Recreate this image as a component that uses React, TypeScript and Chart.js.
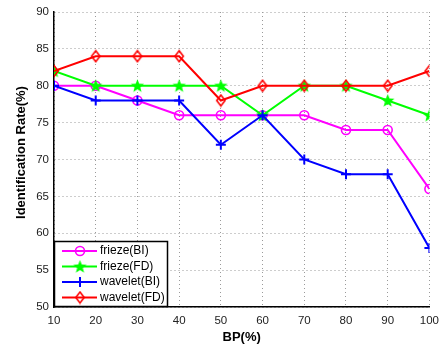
import React, { useEffect, useRef } from "react";
import { Chart, registerables } from "chart.js";

Chart.register(...registerables);

const bpValues = [10, 20, 30, 40, 50, 60, 70, 80, 90, 100];
const friezeBI = [80, 80, 78, 76, 76, 76, 76, 74, 74, 66];
const friezeFD = [82, 80, 80, 80, 80, 76, 80, 80, 78, 76];
const waveletBI = [80, 78, 78, 78, 72, 76, 70, 68, 68, 58];
const waveletFD = [82, 84, 84, 84, 78, 80, 80, 80, 80, 82];
const seriesNames = ["frieze(BI)", "frieze(FD)", "wavelet(BI)", "wavelet(FD)"];
const seriesColors = ["#ff00ff", "#00ff00", "#0000ff", "#ff0000"];
const xTitle = "BP(%)";
const yTitle = "Identification Rate(%)";

function makeStar(color: string): HTMLCanvasElement {
  const c = document.createElement("canvas");
  c.width = 15;
  c.height = 15;
  const ctx = c.getContext("2d")!;
  const cx = 7.5, cy = 8, ro = 7, ri = 3;
  ctx.beginPath();
  for (let i = 0; i < 10; i++) {
    const r = i % 2 === 0 ? ro : ri;
    const a = -Math.PI / 2 + (i * Math.PI) / 5;
    const x = cx + r * Math.cos(a);
    const y = cy + r * Math.sin(a);
    if (i === 0) ctx.moveTo(x, y);
    else ctx.lineTo(x, y);
  }
  ctx.closePath();
  ctx.fillStyle = color;
  ctx.fill();
  return c;
}

function makeDiamond(color: string): HTMLCanvasElement {
  const c = document.createElement("canvas");
  c.width = 12;
  c.height = 14;
  const ctx = c.getContext("2d")!;
  ctx.beginPath();
  ctx.moveTo(6, 1.5);
  ctx.lineTo(10.2, 7);
  ctx.lineTo(6, 12.5);
  ctx.lineTo(1.8, 7);
  ctx.closePath();
  ctx.strokeStyle = color;
  ctx.lineWidth = 1.6;
  ctx.stroke();
  return c;
}

export default function App() {
  const ref = useRef<HTMLCanvasElement>(null);

  useEffect(() => {
    const star = makeStar(seriesColors[1]);
    const diamond = makeDiamond(seriesColors[3]);
    const allSeries = [friezeBI, friezeFD, waveletBI, waveletFD];
    const styles: any[] = ["circle", star, "cross", diamond];
    const radii = [4.5, 6, 5, 6];

    const datasets = allSeries.map((s, i) => ({
      label: seriesNames[i],
      data: s.map((v, j) => ({ x: bpValues[j], y: v })),
      borderColor: seriesColors[i],
      backgroundColor: seriesColors[i],
      borderWidth: 2,
      pointStyle: styles[i],
      pointRadius: radii[i],
      pointBorderWidth: i === 2 ? 2 : 1.6,
      pointBackgroundColor: "rgba(0,0,0,0)",
      pointBorderColor: seriesColors[i],
      tension: 0,
      order: 3 - i,
    }));

    const legendPlugin = {
      id: "boxLegend",
      afterDraw(chart: any) {
        const ctx = chart.ctx;
        const area = chart.chartArea;
        // y axis title
        ctx.save();
        ctx.translate(21, 152.5);
        ctx.rotate(-Math.PI / 2);
        ctx.fillStyle = "#000";
        ctx.font = "bold 13px 'Liberation Sans', Arial, sans-serif";
        ctx.textAlign = "center";
        ctx.textBaseline = "middle";
        ctx.fillText(yTitle, 0, 0);
        ctx.restore();

        const x0 = area.left;
        const w = 114;
        const h = 66;
        const y0 = area.bottom - h;
        ctx.save();
        ctx.fillStyle = "#ffffff";
        ctx.fillRect(x0, y0, w, h);
        ctx.strokeStyle = "#000000";
        ctx.lineWidth = 1.5;
        ctx.strokeRect(x0 + 0.5, y0 + 0.5, w - 1, h - 1);
        const rowYs = [y0 + 10, y0 + 25.5, y0 + 41, y0 + 56.5];
        for (let i = 0; i < 4; i++) {
          const y = rowYs[i];
          ctx.strokeStyle = seriesColors[i];
          ctx.lineWidth = 2;
          ctx.beginPath();
          ctx.moveTo(x0 + 8, y);
          ctx.lineTo(x0 + 43, y);
          ctx.stroke();
          const mx = x0 + 26;
          const st = styles[i];
          if (typeof st === "string") {
            ctx.lineWidth = i === 2 ? 2 : 1.6;
            if (st === "circle") {
              ctx.beginPath();
              ctx.arc(mx, y, radii[i], 0, Math.PI * 2);
              ctx.stroke();
            } else {
              ctx.beginPath();
              ctx.moveTo(mx - radii[i], y);
              ctx.lineTo(mx + radii[i], y);
              ctx.moveTo(mx, y - radii[i]);
              ctx.lineTo(mx, y + radii[i]);
              ctx.stroke();
            }
          } else {
            ctx.drawImage(st, mx - st.width / 2, y - st.height / 2);
          }
          ctx.fillStyle = "#000000";
          ctx.font = "12px 'Liberation Sans', Arial, sans-serif";
          ctx.textBaseline = "middle";
          ctx.textAlign = "left";
          ctx.fillText(seriesNames[i], x0 + 46, y);
        }
        ctx.restore();
      },
    };

    const tickFont = { family: "'Liberation Sans', Arial, sans-serif", size: 11.5 };
    const titleFont = { family: "'Liberation Sans', Arial, sans-serif", size: 13, weight: "bold" as const };

    const chart = new Chart(ref.current!, {
      type: "line",
      data: { datasets },
      options: {
        animation: false,
        responsive: false,
        maintainAspectRatio: false,
        layout: { padding: { top: 12, right: 15, left: 0, bottom: 0 } },
        plugins: { legend: { display: false }, tooltip: { enabled: false } },
        scales: {
          x: {
            type: "linear",
            min: 10,
            max: 100,
            ticks: { stepSize: 10, color: "#222", font: tickFont, padding: 7, maxRotation: 0 },
            grid: { color: "#9a9a9a", lineWidth: 1, drawTicks: false },
            border: { display: true, color: "#000", width: 1.5, dash: [1, 3] },
            title: { display: true, text: xTitle, color: "#000", font: titleFont, padding: { top: 0, bottom: 11 } },
            afterFit: (s: any) => { s.height = 49; },
          },
          y: {
            type: "linear",
            min: 50,
            max: 90,
            ticks: { stepSize: 5, color: "#222", font: tickFont, padding: 5 },
            grid: { color: "#9a9a9a", lineWidth: 1, drawTicks: false },
            border: { display: true, color: "#000", width: 1.5, dash: [1, 3] },
            title: { display: false },
            afterFit: (s: any) => { s.width = 54; },
          },
        },
      },
      plugins: [legendPlugin],
    });
    return () => chart.destroy();
  }, []);

  return (
    <div style={{ position: "fixed", left: 0, top: 0, width: 446, height: 356, background: "#fff" }}>
      <canvas ref={ref} width={446} height={356} style={{ width: 446, height: 356 }} />
    </div>
  );
}
